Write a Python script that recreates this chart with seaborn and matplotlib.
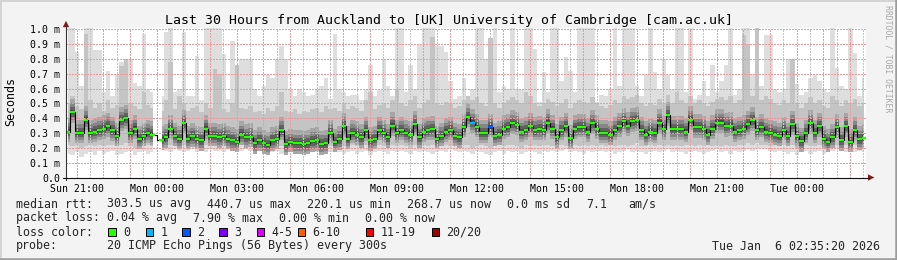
import numpy as np
import matplotlib
matplotlib.use("Agg")
import matplotlib.pyplot as plt
from matplotlib.patches import Rectangle, Polygon
from matplotlib.lines import Line2D
import seaborn as sns

# ---------------- data (ms; 10-minute steps over 30 hours) ----------------
nan = np.nan
median_ms = [
    0.31, 0.44, 0.30, 0.30, 0.39, 0.30, 0.31, 0.32, 0.33, 0.345,
    0.318, 0.28, 0.385, 0.40, 0.30, 0.33, 0.26, 0.28, 0.30, 0.29,
    nan, 0.255, 0.27, 0.33, 0.28, 0.26, 0.365, 0.26, 0.277, 0.26,
    0.25, 0.33, 0.28, 0.28, 0.27, 0.28, 0.26, 0.25, 0.24, 0.29,
    0.27, 0.275, 0.23, 0.25, 0.23, 0.22, 0.25, 0.26, 0.32, 0.225,
    0.24, 0.23, 0.23, 0.225, 0.23, 0.244, 0.25, 0.225, 0.23, 0.30,
    0.24, 0.257, 0.345, 0.26, 0.30, 0.29, 0.27, 0.318, 0.25, 0.26,
    0.32, 0.30, 0.27, 0.35, 0.30, 0.32, 0.30, 0.29, 0.36, 0.27,
    0.31, 0.32, 0.324, 0.26, 0.28, 0.31, 0.32, 0.28, 0.27, 0.34,
    0.41, 0.37, 0.34, 0.30, 0.30, 0.34, 0.28, 0.29, 0.33, 0.34,
    0.365, 0.355, 0.31, 0.32, 0.345, 0.32, 0.325, 0.32, 0.37, 0.33,
    0.27, 0.32, 0.345, 0.264, 0.33, 0.34, 0.34, 0.31, 0.365, 0.33,
    0.30, 0.30, 0.29, 0.32, 0.345, 0.378, 0.35, 0.38, 0.385, 0.32,
    0.29, 0.31, 0.30, 0.37, 0.325, 0.42, 0.325, 0.325, 0.325, 0.31,
    0.39, 0.338, 0.338, 0.325, 0.29, 0.33, 0.37, 0.37, 0.345, 0.35,
    0.31, 0.32, 0.33, 0.36, 0.385, 0.32, 0.34, 0.31, 0.30, 0.29,
    0.28, 0.32, 0.28, 0.36, 0.28, 0.244, 0.30, 0.365, 0.30, 0.345,
    0.26, 0.24, 0.27, 0.338, 0.25, 0.345, 0.24, 0.32, 0.257, 0.269,
]
lost_pings = [0] * 180
lost_pings[91] = 1
lost_pings[95] = 2

ping_max_ms = [
    1.05, 1.05, 0.85, 0.62, 1.05, 1.05, 0.86, 0.86, 0.58, 0.72,
    0.55, 0.70, 0.78, 0.75, 0.80, 0.64, 0.62, 0.97, 0.60, 0.58,
    nan, 0.55, 0.98, 1.05, 0.58, 0.60, 0.98, 0.55, 0.55, 0.82,
    0.52, 1.05, 1.05, 1.05, 1.05, 0.83, 0.53, 0.92, 0.72, 0.80,
    0.80, 0.80, 0.60, 0.55, 0.62, 0.69, 0.67, 0.80, 0.89, 0.80,
    0.60, 0.55, 0.60, 0.58, 0.55, 0.56, 0.60, 0.62, 0.67, 0.53,
    0.97, 0.60, 0.58, 0.55, 0.56, 0.56, 0.52, 0.60, 0.76, 0.55,
    0.59, 0.80, 0.62, 0.55, 1.05, 1.05, 0.58, 0.76, 0.60, 0.90,
    1.05, 1.05, 1.05, 0.89, 0.89, 0.85, 0.65, 0.53, 0.55, 0.67,
    0.55, 0.60, 1.05, 1.05, 0.80, 0.94, 1.05, 0.58, 0.62, 0.60,
    1.05, 0.60, 0.59, 1.05, 1.05, 0.87, 0.51, 0.71, 0.58, 1.05,
    1.05, 0.65, 0.81, 0.72, 0.58, 1.05, 1.05, 1.05, 1.05, 0.51,
    0.56, 0.55, 0.60, 1.05, 0.62, 1.05, 1.05, 1.05, 0.62, 0.55,
    0.70, 1.05, 0.71, 0.60, 0.80, 0.69, 0.60, 1.05, 1.05, 0.58,
    1.05, 0.53, 0.56, 0.65, 0.55, 0.76, 0.58, 0.65, 0.76, 1.05,
    0.56, 0.60, 1.05, 1.05, 0.70, 1.05, 0.62, 0.96, 0.96, 0.60,
    0.58, 0.60, 0.80, 0.80, 0.63, 0.56, 0.58, 0.67, 0.69, 0.65,
    0.60, 0.58, 1.05, 0.74, 0.62, 0.60, 1.05, 0.84, 0.55, 0.67,
]
ping_p90_ms = [
    0.50, 0.55, 0.48, 0.46, 0.97, 0.52, 0.47, 0.50, 0.45, 0.52,
    0.47, 0.49, 0.75, 0.80, 0.50, 0.48, 0.46, 0.58, 0.49, 0.47,
    nan, 0.45, 0.52, 0.78, 0.46, 0.55, 0.50, 0.45, 0.47, 0.48,
    0.44, 0.50, 0.47, 0.73, 0.70, 0.46, 0.44, 0.50, 0.76, 0.47,
    0.46, 0.48, 0.44, 0.45, 0.43, 0.47, 0.45, 0.48, 0.58, 0.45,
    0.44, 0.46, 0.43, 0.45, 0.44, 0.46, 0.47, 0.44, 0.48, 0.46,
    0.47, 0.45, 0.50, 0.46, 0.48, 0.47, 0.45, 0.52, 0.58, 0.46,
    0.49, 0.50, 0.47, 0.52, 0.60, 0.50, 0.48, 0.52, 0.55, 0.47,
    0.50, 0.52, 0.95, 0.50, 0.49, 0.51, 0.50, 0.47, 0.48, 0.52,
    0.55, 0.52, 0.54, 0.50, 0.48, 0.94, 0.50, 0.47, 0.50, 0.52,
    0.54, 0.52, 0.50, 0.58, 0.55, 0.50, 0.48, 0.50, 0.53, 0.51,
    0.48, 0.50, 0.53, 0.47, 0.50, 0.52, 0.51, 0.50, 0.54, 0.50,
    0.48, 0.47, 0.49, 0.52, 0.50, 0.55, 0.53, 0.54, 0.56, 0.50,
    0.48, 0.50, 0.49, 0.53, 0.50, 0.56, 0.50, 0.58, 0.52, 0.50,
    0.55, 0.50, 0.52, 0.50, 0.48, 0.51, 0.53, 0.54, 0.52, 0.55,
    0.50, 0.52, 0.96, 0.90, 0.55, 1.05, 0.52, 0.55, 0.53, 0.50,
    0.49, 0.52, 0.50, 0.80, 0.50, 0.47, 0.50, 0.54, 0.50, 0.52,
    0.48, 0.47, 0.55, 0.52, 0.48, 0.52, 0.50, 0.53, 0.48, 0.50,
]
ping_p10_ms = [
    0.22, 0.21, 0.22, 0.20, 0.21, 0.22, 0.21, 0.22, 0.21, 0.22,
    0.22, 0.21, 0.22, 0.23, 0.21, 0.20, 0.22, 0.21, 0.22, 0.21,
    nan, 0.22, 0.21, 0.22, 0.22, 0.21, 0.22, 0.21, 0.22, 0.21,
    0.21, 0.22, 0.21, 0.22, 0.21, 0.22, 0.21, 0.20, 0.21, 0.22,
    0.21, 0.22, 0.20, 0.21, 0.20, 0.20, 0.21, 0.22, 0.21, 0.20,
    0.21, 0.20, 0.21, 0.20, 0.21, 0.21, 0.22, 0.20, 0.21, 0.21,
    0.21, 0.22, 0.21, 0.20, 0.22, 0.21, 0.20, 0.22, 0.21, 0.20,
    0.22, 0.21, 0.20, 0.22, 0.21, 0.22, 0.21, 0.20, 0.22, 0.21,
    0.22, 0.21, 0.22, 0.20, 0.21, 0.22, 0.21, 0.22, 0.21, 0.22,
    0.22, 0.20, 0.21, 0.22, 0.21, 0.20, 0.21, 0.22, 0.21, 0.22,
    0.22, 0.21, 0.20, 0.22, 0.21, 0.22, 0.21, 0.22, 0.22, 0.21,
    0.21, 0.22, 0.21, 0.20, 0.22, 0.21, 0.22, 0.21, 0.22, 0.21,
    0.22, 0.21, 0.22, 0.21, 0.22, 0.22, 0.21, 0.22, 0.23, 0.21,
    0.21, 0.22, 0.21, 0.22, 0.21, 0.22, 0.21, 0.22, 0.21, 0.22,
    0.22, 0.21, 0.22, 0.21, 0.22, 0.21, 0.22, 0.21, 0.22, 0.21,
    0.21, 0.22, 0.22, 0.23, 0.22, 0.23, 0.22, 0.22, 0.21, 0.22,
    0.21, 0.22, 0.21, 0.22, 0.20, 0.21, 0.22, 0.21, 0.21, 0.22,
    0.20, 0.21, 0.22, 0.22, 0.21, 0.22, 0.21, 0.22, 0.21, 0.22,
]
ping_min_ms = [
    0.16, 0.15, 0.17, 0.14, 0.16, 0.17, 0.15, 0.18, 0.16, 0.17,
    0.18, 0.15, 0.16, 0.17, 0.18, 0.15, 0.17, 0.18, 0.16, 0.17,
    nan, 0.19, 0.18, 0.17, 0.19, 0.18, 0.17, 0.18, 0.19, 0.17,
    0.18, 0.17, 0.19, 0.18, 0.18, 0.17, 0.19, 0.18, 0.17, 0.18,
    0.19, 0.18, 0.17, 0.18, 0.19, 0.18, 0.17, 0.18, 0.16, 0.18,
    0.19, 0.18, 0.17, 0.18, 0.18, 0.19, 0.17, 0.18, 0.18, 0.17,
    0.18, 0.17, 0.16, 0.17, 0.18, 0.16, 0.17, 0.18, 0.15, 0.17,
    0.18, 0.17, 0.16, 0.18, 0.17, 0.18, 0.17, 0.16, 0.18, 0.17,
    0.18, 0.17, 0.16, 0.17, 0.18, 0.17, 0.19, 0.18, 0.17, 0.18,
    0.17, 0.16, 0.18, 0.17, 0.16, 0.15, 0.17, 0.18, 0.16, 0.18,
    0.17, 0.18, 0.16, 0.17, 0.18, 0.17, 0.16, 0.18, 0.17, 0.18,
    0.17, 0.18, 0.19, 0.17, 0.18, 0.17, 0.16, 0.18, 0.17, 0.18,
    0.18, 0.17, 0.18, 0.16, 0.17, 0.18, 0.19, 0.17, 0.18, 0.17,
    0.16, 0.17, 0.18, 0.17, 0.18, 0.19, 0.17, 0.18, 0.17, 0.16,
    0.17, 0.18, 0.17, 0.16, 0.17, 0.18, 0.19, 0.17, 0.18, 0.16,
    0.18, 0.17, 0.18, 0.19, 0.18, 0.19, 0.20, 0.19, 0.18, 0.17,
    0.18, 0.17, 0.16, 0.17, 0.15, 0.17, 0.18, 0.16, 0.17, 0.18,
    0.16, 0.17, 0.18, 0.19, 0.18, 0.17, 0.18, 0.17, 0.18, 0.17,
]

span_hours = 30
first_label_offset_h = 0.394          # Sun 21:00 after the start of the window
x_tick_labels = ["Sun 21:00", "Mon 00:00", "Mon 03:00", "Mon 06:00", "Mon 09:00",
                 "Mon 12:00", "Mon 15:00", "Mon 18:00", "Mon 21:00", "Tue 00:00"]
y_tick_values = [0.0, 0.1, 0.2, 0.3, 0.4, 0.5, 0.6, 0.7, 0.8, 0.9, 1.0]
y_tick_labels = ["0.0", "0.1 m", "0.2 m", "0.3 m", "0.4 m", "0.5 m",
                 "0.6 m", "0.7 m", "0.8 m", "0.9 m", "1.0 m"]

title = "Last 30 Hours from Auckland to [UK] University of Cambridge [cam.ac.uk]"
rtt_stats = ["303.5 us avg", "440.7 us max", "220.1 us min", "268.7 us now",
             "0.0 ms sd", "7.1", "am/s"]
loss_stats = ["0.04 % avg", "7.90 % max", "0.00 % min", "0.00 % now"]
loss_labels = ["0", "1", "2", "3", "4-5", "6-10", "11-19", "20/20"]
loss_colors = ["#26ff00", "#00b8ff", "#0059ff", "#7e00ff",
               "#dd00ff", "#ff5a00", "#ff0000", "#a10000"]
probe_text = "20 ICMP Echo Pings (56 Bytes) every 300s"
stamp_text = "Tue Jan  6 02:35:20 2026"

# ---------------- figure ----------------
W, H = 897, 260
sns.set_theme(style="white")
plt.rcParams["font.family"] = ["DejaVu Sans Mono", "DejaVu Sans"]

fig = plt.figure(figsize=(W / 100, H / 100), dpi=100, facecolor="#f3f3f3")


def fx(px):
    return px / W


def fy(py):
    return 1 - py / H


X0, X1 = 66, 866          # plot area left/right pixel
Y0, YT = 177.5, 28        # pixel of value 0, pixel of top edge
PX_PER_UNIT = 148.2
ax = fig.add_axes([fx(X0), fy(Y0), (X1 - X0) / W, (Y0 - YT) / H])
ax.set_facecolor("white")
ax.set_xlim(0, span_hours)
ax.set_ylim(0, (Y0 - YT) / PX_PER_UNIT)
for s in ax.spines.values():
    s.set_visible(False)

n = len(median_ms)
step_h = span_hours / n
t = (np.arange(n) + 0.5) * step_h
med = np.array(median_ms, dtype=float)

# smoke
ax.fill_between(t, ping_min_ms, ping_max_ms, step="mid", color="#dedede", lw=0, zorder=1)
ax.fill_between(t, ping_p10_ms, ping_p90_ms, step="mid", color="#c4c4c4", lw=0, zorder=1.1)
for lo_d, hi_d, col in [(0.07, 0.09, "#a6a6a6"), (0.05, 0.06, "#868686"),
                        (0.03, 0.035, "#626262"), (0.012, 0.015, "#424242")]:
    ax.fill_between(t, med - lo_d, med + hi_d, step="mid", color=col, lw=0, zorder=1.2)

# grid (drawn over smoke)
grid_red = "#ee9a9a"
grid_grey = "#c4c4c4"
gkw = dict(lw=1.0, ls=(0, (1, 1)), zorder=3, antialiased=False)
k = 0
while first_label_offset_h + k < span_hours:
    ax.axvline(first_label_offset_h + k, color=grid_red, **gkw)
    k += 1
k = -1
while first_label_offset_h + k + 0.5 < span_hours:
    h = first_label_offset_h + k + 0.5
    if h > 0:
        ax.axvline(h, color=grid_grey, **gkw)
    k += 1
for v in y_tick_values[1:]:
    ax.axhline(v, color=grid_red, **gkw)

# median line
sns.lineplot(x=t, y=med, ax=ax, color="black", lw=0.8, drawstyle="steps-mid",
             estimator=None, sort=False, zorder=4, legend=False)


def loss_index(c):
    if c <= 3:
        return c
    if c <= 5:
        return 4
    if c <= 10:
        return 5
    if c <= 19:
        return 6
    return 7


cols = [loss_colors[loss_index(c)] for c in lost_pings]
ax.hlines(med, t - step_h / 2, t + step_h / 2, colors=cols, lw=1.7, zorder=5)

# ticks
xt = [first_label_offset_h + 3 * i for i in range(len(x_tick_labels))]
ax.set_xticks(xt, x_tick_labels)
ax.set_yticks(y_tick_values, y_tick_labels)
ax.tick_params(axis="x", length=0, pad=4.4, labelsize=7.1, labelcolor="black")
ax.tick_params(axis="y", length=0, pad=4.1, labelsize=7.1, labelcolor="black")
ax.grid(False)

# axes lines and arrows
fig.add_artist(Line2D([fx(X0), fx(X0)], [fy(25), fy(180)], color="#333333", lw=0.8))
fig.add_artist(Line2D([fx(63), fx(869)], [fy(Y0), fy(Y0)], color="#111111", lw=0.8))
arrow_c = "#8b1a1a"
fig.add_artist(Polygon([[fx(62.8), fy(27.2)], [fx(69.2), fy(27.2)], [fx(66), fy(20.8)]],
                       closed=True, color=arrow_c, lw=0))
fig.add_artist(Polygon([[fx(868), fy(174.3)], [fx(868), fy(180.7)], [fx(874.4), fy(177.5)]],
                       closed=True, color=arrow_c, lw=0))

# frame
fig.add_artist(Line2D([0, 1], [fy(0.7), fy(0.7)], color="#d4d4d4", lw=1.4))
fig.add_artist(Line2D([fx(0.7), fx(0.7)], [0, 1], color="#d4d4d4", lw=1.4))
fig.add_artist(Line2D([0, 1], [fy(258.8), fy(258.8)], color="#9c9c9c", lw=1.8))
fig.add_artist(Line2D([fx(895.8), fx(895.8)], [0, 1], color="#9c9c9c", lw=1.8))

# texts
fig.text(fx(448.5), fy(24), title, ha="center", va="baseline", fontsize=9.5, color="black")
fig.text(fx(10.3), fy(101.7), "Seconds", rotation=90, ha="center", va="center",
         fontsize=8.35, color="black")
fig.text(fx(887.5), fy(5), "RRDTOOL / TOBI OETIKER", rotation=270, ha="center", va="top",
         fontsize=5.9, color="#a8a8a8")

LF = 8.35
rows = [207.5, 221.5, 235.5, 249.5]
fig.text(fx(16), fy(rows[0]), "median rtt:", fontsize=LF, va="baseline")
for s, xp in zip(rtt_stats, [107.3, 207.3, 306.7, 406.7, 506.7, 586.7, 628.3]):
    fig.text(fx(xp), fy(rows[0]), s, fontsize=LF, va="baseline")
fig.text(fx(16), fy(rows[1]), "packet loss:", fontsize=LF, va="baseline")
for s, xp in zip(loss_stats, [107.3, 193.3, 279.3, 365.0]):
    fig.text(fx(xp), fy(rows[1]), s, fontsize=LF, va="baseline")
fig.text(fx(16), fy(rows[2]), "loss color:", fontsize=LF, va="baseline")
for lab, col, xp in zip(loss_labels, loss_colors,
                        [108.3, 145.7, 182.3, 219.3, 256.7, 297.7, 365.7, 432.0]):
    fig.add_artist(Rectangle((fx(xp), fy(235.7)), 7.3 / W, 7.3 / H,
                             facecolor=col, edgecolor="black", lw=0.7))
    fig.text(fx(xp + 14.6), fy(rows[2]), lab, fontsize=LF, va="baseline")
fig.text(fx(16), fy(rows[3]), "probe:", fontsize=LF, va="baseline")
fig.text(fx(107.3), fy(rows[3]), probe_text, fontsize=LF, va="baseline")
fig.text(fx(880), fy(rows[3]), stamp_text, fontsize=LF, va="baseline", ha="right")

fig.savefig("out.png", dpi=100, facecolor=fig.get_facecolor())
